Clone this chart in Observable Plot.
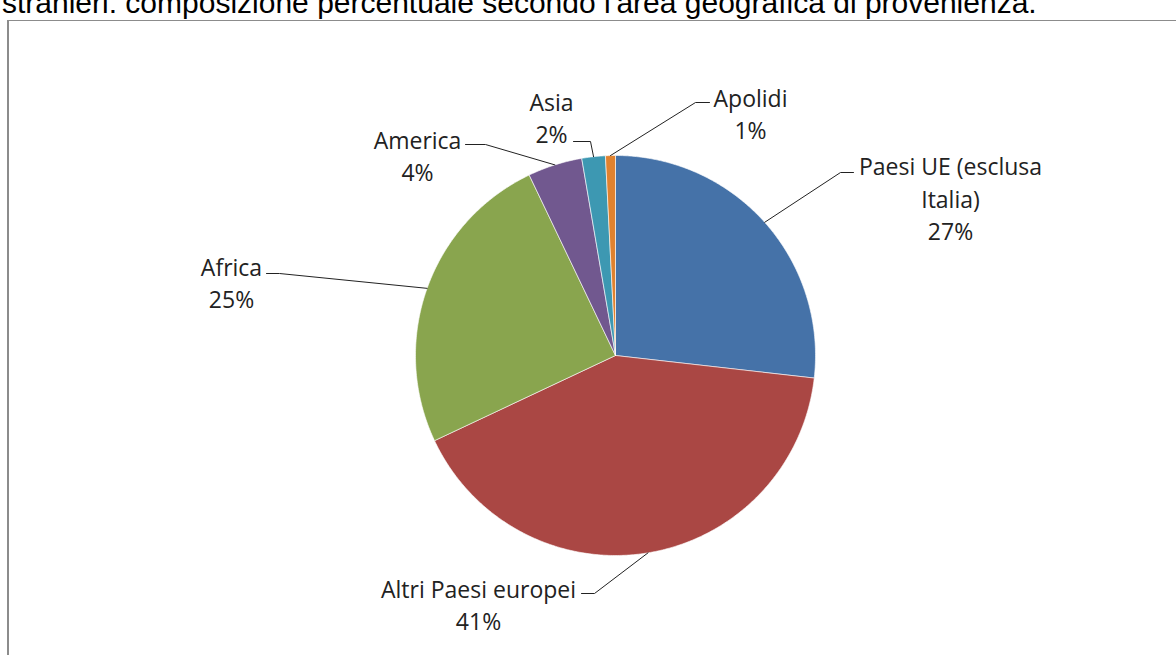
<!DOCTYPE html>
<html>
<head>
<meta charset="utf-8">
<script src="https://cdn.jsdelivr.net/npm/d3@7"></script>
<script src="https://cdn.jsdelivr.net/npm/@observablehq/plot@0.6"></script>
<style>
  html, body { margin: 0; padding: 0; background: #fff; overflow: hidden; width: 1176px; height: 655px; }
  #title { position: relative; height: 20px; overflow: hidden; }
  #title span { position: absolute; left: 2px; top: -12px; font: 30px "Liberation Sans", Arial, sans-serif; line-height: 30px; color: #000; white-space: nowrap; }
  #frame { margin-left: 7px; border-left: 2px solid #8c8c8c; border-top: 1px solid #8c8c8c; width: 1167px; height: 634px; }
  #frame svg { display: block; }
</style>
</head>
<body>
<div id="title"><span>stranieri: composizione percentuale secondo l'area geografica di provenienza.</span></div>
<div id="frame"></div>
<script>
// ---- data ----
const categories = ["Paesi UE (esclusa Italia)", "Altri Paesi europei", "Africa", "America", "Asia", "Apolidi"];
const shares = [26.8, 41.2, 24.9, 4.4, 1.9, 0.8];
const labelNames = ["Paesi UE (esclusa\nItalia)", "Altri Paesi europei", "Africa", "America", "Asia", "Apolidi"];
const sliceColors = ["#4572a8", "#aa4744", "#89a54e", "#71588f", "#3d98b2", "#e0822f"];

// ---- layout (page coordinates) ----
const OX = 9, OY = 21, W = 1167, H = 634;
const CX = 615, CY = 355, R = 200;
const labelX = [950, 478, 231, 417, 551, 750];
const labelY = [197, 603, 281, 154, 116, 112];
const leaderEndX = [853, 581, 266, 465, 573, 709];
const leaderEndY = [172, 593, 273, 144, 141, 102];
const leaderElbowDx = [-13, 13, 13, 20, 17, -14];

const pie = d3.pie().sort(null).value(d => d)(shares);

// slice polygons
const polys = [];
pie.forEach((p, i) => {
  const a0 = p.startAngle, a1 = p.endAngle;
  const n = Math.max(4, Math.ceil((a1 - a0) / (Math.PI / 360)));
  polys.push({name: categories[i], x: CX, y: CY});
  for (let k = 0; k <= n; k++) {
    const a = a0 + (a1 - a0) * k / n;
    polys.push({name: categories[i], x: CX + R * Math.sin(a), y: CY - R * Math.cos(a)});
  }
  polys.push({name: categories[i], x: CX, y: CY});
});

// leader lines: from arc midpoint to elbow to label
const leaders = [];
pie.forEach((p, i) => {
  const m = (p.startAngle + p.endAngle) / 2;
  leaders.push({name: categories[i], x: CX + R * Math.sin(m), y: CY - R * Math.cos(m)});
  leaders.push({name: categories[i], x: leaderEndX[i] + leaderElbowDx[i], y: leaderEndY[i]});
  leaders.push({name: categories[i], x: leaderEndX[i], y: leaderEndY[i]});
});

const labels = categories.map((c, i) => ({
  name: c,
  text: labelNames[i] + "\n" + Math.round(shares[i]) + "%",
  x: labelX[i], y: labelY[i]
}));

const chart = Plot.plot({
  width: W, height: H,
  margin: 0,
  style: {background: "#fff", overflow: "visible"},
  x: {domain: [OX, OX + W], range: [0, W], axis: null},
  y: {domain: [OY, OY + H], range: [0, H], axis: null},
  color: {domain: categories, range: sliceColors},
  marks: [
    Plot.line(polys, {x: "x", y: "y", z: "name", fill: "name", stroke: "#fff", strokeWidth: 1, strokeOpacity: 0.6, curve: "linear"}),
    Plot.line(leaders, {x: "x", y: "y", z: "name", stroke: "#222", strokeWidth: 1, curve: "linear", strokeLinejoin: "miter"}),
    Plot.text(labels, {x: "x", y: "y", text: "text", fontFamily: "'Open Sans', Lato, sans-serif", fontSize: 23, lineHeight: 1.41, fill: "#222", textAnchor: "middle"})
  ]
});
document.getElementById("frame").appendChild(chart);
</script>
</body>
</html>
